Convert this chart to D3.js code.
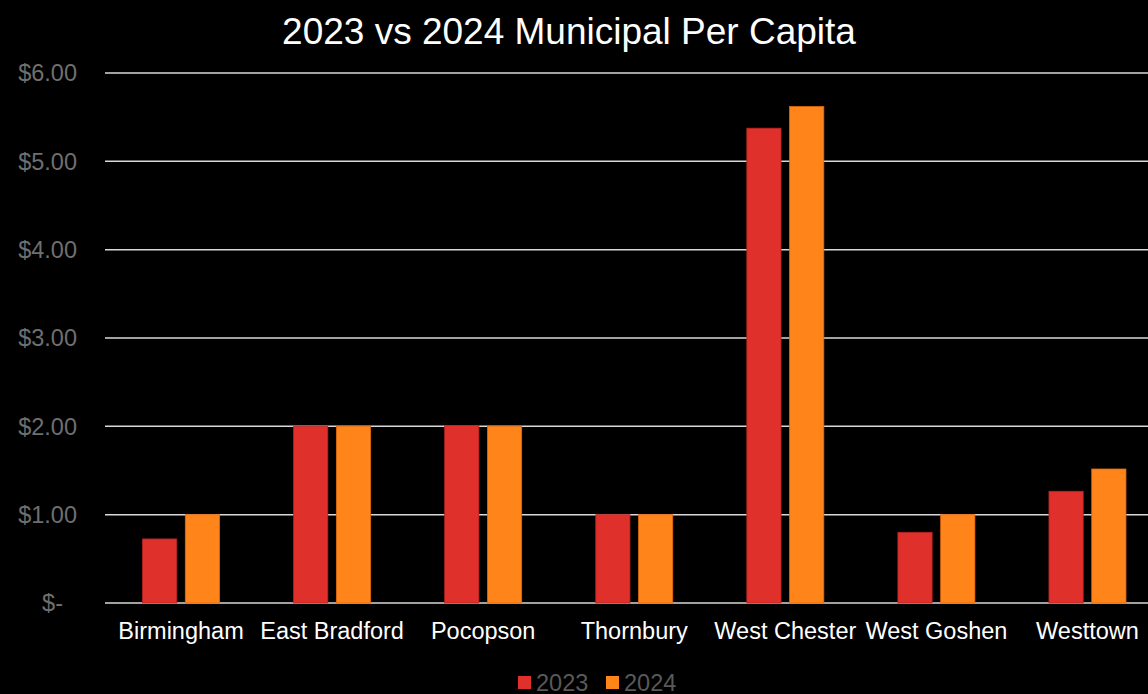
<!DOCTYPE html>
<html><head><meta charset="utf-8">
<script src="https://cdn.jsdelivr.net/npm/d3@7"></script>
<style>html,body{margin:0;padding:0;background:#000;overflow:hidden}</style>
</head><body>
<svg id="c" width="1148" height="694"></svg>
<script>
const categories = ["Birmingham","East Bradford","Pocopson","Thornbury","West Chester","West Goshen","Westtown"];
const seriesNames = ["2023","2024"];
const values2023 = [0.725, 2.00, 2.01, 1.00, 5.375, 0.80, 1.265];
const values2024 = [1.00, 2.00, 2.00, 1.00, 5.62, 1.00, 1.517];
const yTicks = [0,1,2,3,4,5,6];
const colors = ["#E0302B","#FF851B"];
const strokes = ["#B82420","#E06A0C"];

const svg = d3.select("#c");
const font = "Liberation Sans, Arial, sans-serif";
svg.append("rect").attr("width",1148).attr("height",694).attr("fill","#000");

const x = d3.scaleBand().domain(categories).range([105.5,1163]).paddingInner(0).paddingOuter(0);
const y = d3.scaleLinear().domain([0,6]).range([603,73]);
const x1 = d3.scaleBand().domain(seriesNames).range([x.bandwidth()/2-38.5, x.bandwidth()/2+38.5]).paddingInner(0.2);

// grid
svg.append("g").selectAll("line").data(yTicks).join("line")
  .attr("x1",105).attr("x2",1148)
  .attr("y1",d=>y(d)).attr("y2",d=>y(d))
  .attr("stroke","#D9D9D9").attr("stroke-width",1.5);

// y labels
svg.append("g").selectAll("text").data(yTicks).join("text")
  .attr("x",d=>d===0?63:77).attr("y",d=>y(d)).attr("dy","0.35em")
  .attr("text-anchor","end").attr("fill","#6F6F6F")
  .attr("font-family",font).attr("font-size",23.5)
  .text(d=>d===0?"$-":"$"+d.toFixed(2));

// bars
const rows = categories.map((c,i)=>({c, vals:[values2023[i],values2024[i]]}));
const g = svg.append("g").selectAll("g").data(rows).join("g")
  .attr("transform",d=>`translate(${x(d.c)},0)`);
g.selectAll("rect").data(d=>d.vals.map((v,j)=>({s:seriesNames[j],v,j}))).join("rect")
  .attr("x",d=>x1(d.s)).attr("width",x1.bandwidth())
  .attr("y",d=>y(d.v)).attr("height",d=>y(0)-y(d.v))
  .attr("fill",d=>colors[d.j]).attr("stroke",d=>strokes[d.j]).attr("stroke-width",0.8);

// category labels
svg.append("g").selectAll("text").data(categories).join("text")
  .attr("x",d=>x(d)+x.bandwidth()/2).attr("y",639)
  .attr("text-anchor","middle").attr("fill","#FFFFFF")
  .attr("font-family",font).attr("font-size",23.5)
  .text(d=>d);

// title
svg.append("text").attr("x",569).attr("y",44).attr("text-anchor","middle")
  .attr("fill","#FFFFFF").attr("font-family",font).attr("font-size",37)
  .text("2023 vs 2024 Municipal Per Capita");

// legend
const legX = [518,606];
const lg = svg.append("g").selectAll("g").data(seriesNames).join("g")
  .attr("transform",(d,i)=>`translate(${legX[i]},676)`);
lg.append("rect").attr("width",13).attr("height",13).attr("fill",(d,i)=>colors[i]);
lg.append("text").attr("x",18).attr("y",14.5).attr("fill","#595959")
  .attr("font-family",font).attr("font-size",23.5).text(d=>d);
</script>
</body></html>
